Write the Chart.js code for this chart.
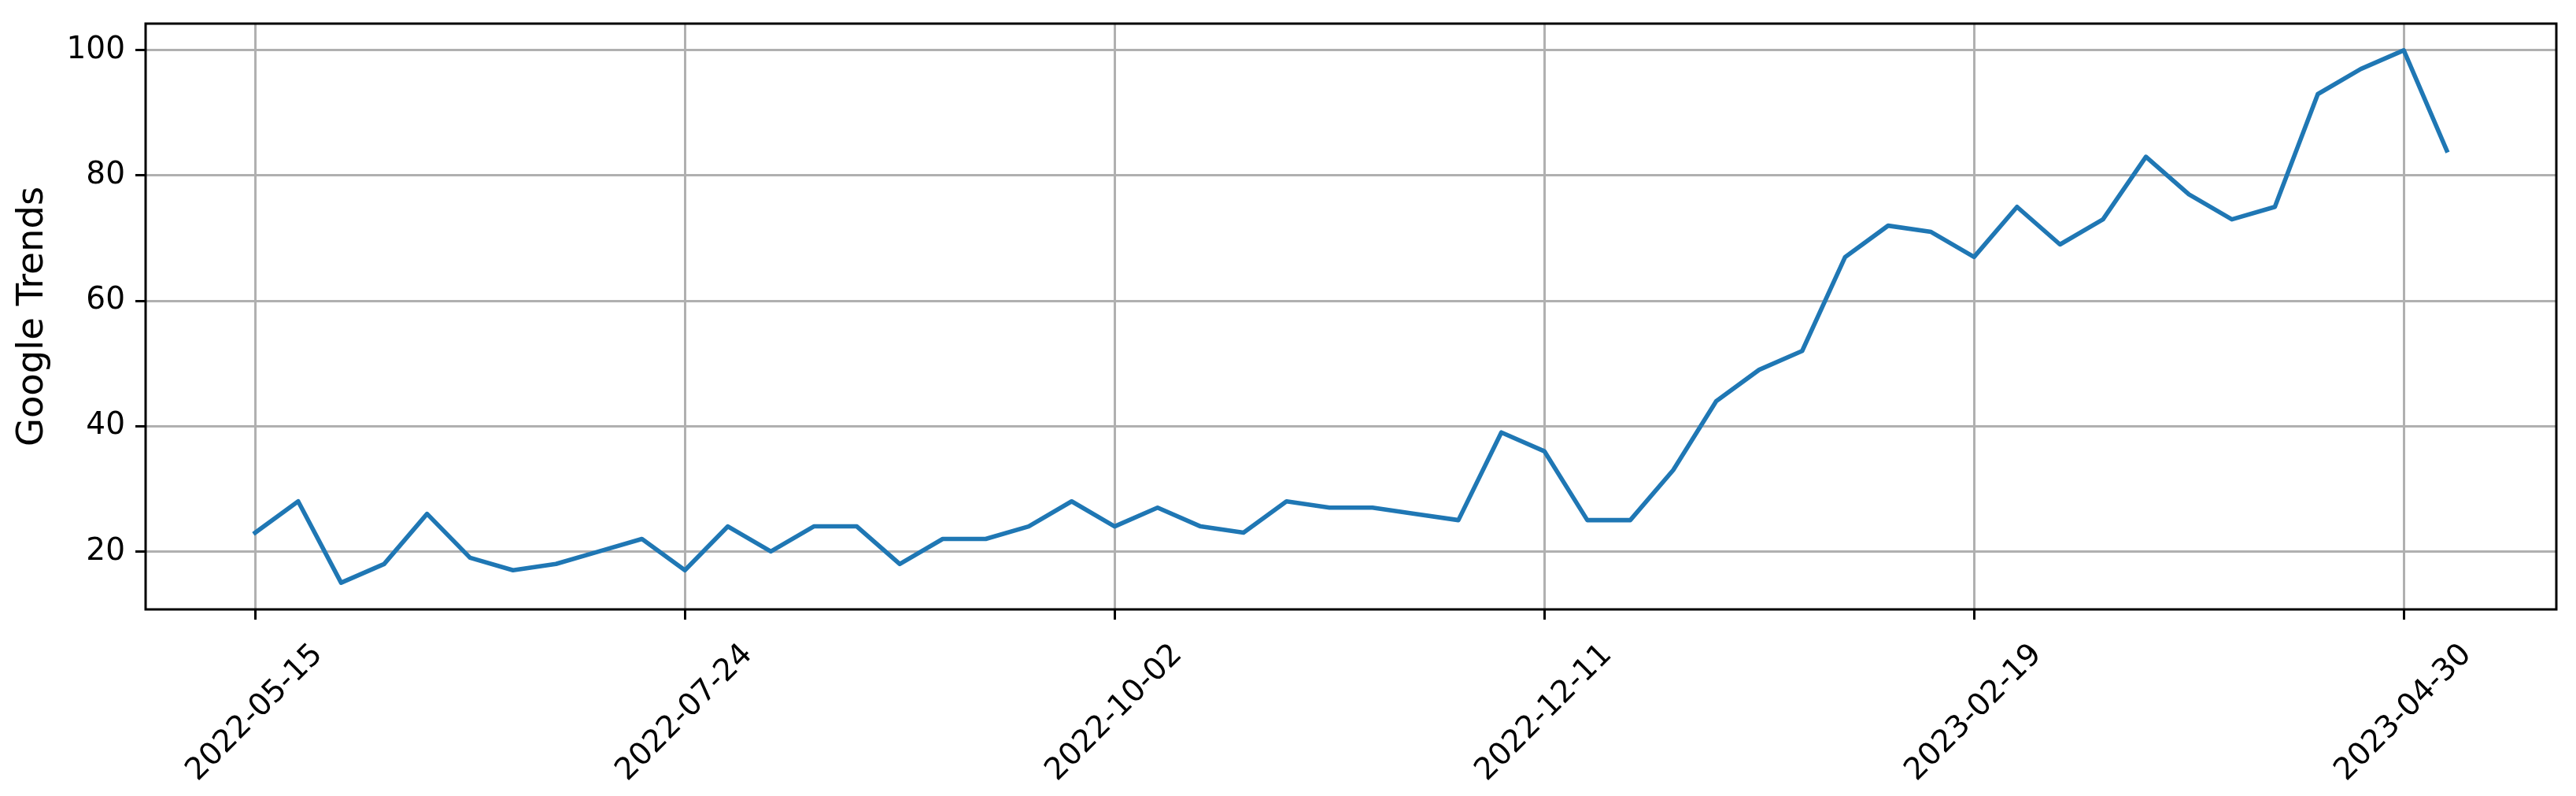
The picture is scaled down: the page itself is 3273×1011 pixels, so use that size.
<!DOCTYPE html>
<html>
<head>
<meta charset="utf-8">
<script src="https://cdn.jsdelivr.net/npm/chart.js@4"></script>
<style>
  body { margin: 0; background: #fff; }
  #wrap { width: 3273px; height: 1011px; }
</style>
</head>
<body>
<div id="wrap"><canvas id="myChart"></canvas></div>
<script>
'use strict';

//---------------------- data -------------------
let weeks = [
  '2022-05-15', '2022-05-22', '2022-05-29', '2022-06-05', '2022-06-12', '2022-06-19', '2022-06-26',
  '2022-07-03', '2022-07-10', '2022-07-17', '2022-07-24', '2022-07-31', '2022-08-07', '2022-08-14',
  '2022-08-21', '2022-08-28', '2022-09-04', '2022-09-11', '2022-09-18', '2022-09-25', '2022-10-02',
  '2022-10-09', '2022-10-16', '2022-10-23', '2022-10-30', '2022-11-06', '2022-11-13', '2022-11-20',
  '2022-11-27', '2022-12-04', '2022-12-11', '2022-12-18', '2022-12-25', '2023-01-01', '2023-01-08',
  '2023-01-15', '2023-01-22', '2023-01-29', '2023-02-05', '2023-02-12', '2023-02-19', '2023-02-26',
  '2023-03-05', '2023-03-12', '2023-03-19', '2023-03-26', '2023-04-02', '2023-04-09', '2023-04-16',
  '2023-04-23', '2023-04-30', '2023-05-07'
];
let trends = [
  23, 28, 15, 18, 26, 19, 17, 18, 20, 22,
  17, 24, 20, 24, 24, 18, 22, 22, 24, 28,
  24, 27, 24, 23, 28, 27, 27, 26, 25, 39,
  36, 25, 25, 33, 44, 49, 52, 67, 72, 71,
  67, 75, 69, 73, 83, 77, 73, 75, 93, 97,
  100, 84
];
let xTickLabels = ['2022-05-15', '2022-07-24', '2022-10-02', '2022-12-11', '2023-02-19', '2023-04-30'];
let yTicks = [20, 40, 60, 80, 100];
let yLabel = 'Google Trends';

// matplotlib style 5% margins
let yMin = Math.min(...trends);
let yMax = Math.max(...trends);
let yPad = (yMax - yMin) * 0.05;
let xPad = (weeks.length - 1) * 0.05;

let points = [];
for (let i = 0; i < weeks.length; i++) {
  points.push({ x: i, y: trends[i] });
}
let xTickIndex = xTickLabels.map(function (d) { return weeks.indexOf(d); });

let tickFont = { family: '"DejaVu Sans", sans-serif', size: 39 };
let titleFont = { family: '"DejaVu Sans", sans-serif', size: 46.5 };

// full box round the plot, like the spines
let frame = {
  id: 'frame',
  afterDraw(chart) {
    let a = chart.chartArea;
    let c = chart.ctx;
    c.save();
    c.strokeStyle = '#000';
    c.lineWidth = 3;
    c.strokeRect(a.left, a.top, a.right - a.left, a.bottom - a.top);
    c.restore();
  }
};

let gridOpts = { color: '#b0b0b0', lineWidth: 3, tickColor: '#000', tickWidth: 3, tickLength: 13 };

let ctx = document.getElementById('myChart').getContext('2d');
let myChart = new Chart(ctx, {
  type: 'line',
  data: {
    datasets: [{
      label: yLabel,
      data: points,
      borderColor: '#1f77b4',
      borderWidth: 5.6,
      borderJoinStyle: 'round',
      borderCapStyle: 'square',
      pointRadius: 0,
      tension: 0,
      fill: false
    }]
  },
  options: {
    responsive: true,
    maintainAspectRatio: false,
    devicePixelRatio: 1,
    animation: false,
    layout: { padding: { top: 30, right: 25, left: 0, bottom: 0 } },
    plugins: { legend: { display: false }, tooltip: { enabled: false } },
    scales: {
      x: {
        type: 'linear',
        min: -xPad,
        max: weeks.length - 1 + xPad,
        border: { display: false },
        grid: gridOpts,
        ticks: {
          autoSkip: false,
          minRotation: 45,
          maxRotation: 45,
          padding: 22,
          labelOffset: 80,
          color: '#000',
          font: tickFont,
          callback: function (v) { return weeks[v]; }
        },
        afterBuildTicks: function (scale) {
          scale.ticks = xTickIndex.map(function (v) { return { value: v }; });
        },
        afterFit: function (scale) {
          scale.height = 237;
          scale.paddingLeft = 0;
          scale.paddingRight = 0;
        }
      },
      y: {
        type: 'linear',
        min: yMin - yPad,
        max: yMax + yPad,
        border: { display: false },
        grid: gridOpts,
        ticks: { padding: 13, color: '#000', font: tickFont },
        title: { display: true, text: yLabel, color: '#000', font: titleFont, padding: { top: 14, bottom: 0 } },
        afterBuildTicks: function (scale) {
          scale.ticks = yTicks.map(function (v) { return { value: v }; });
        },
        afterFit: function (scale) {
          scale.width = 185;
          scale.paddingTop = 0;
          scale.paddingBottom = 0;
        }
      }
    }
  },
  plugins: [frame]
});
</script>
</body>
</html>
